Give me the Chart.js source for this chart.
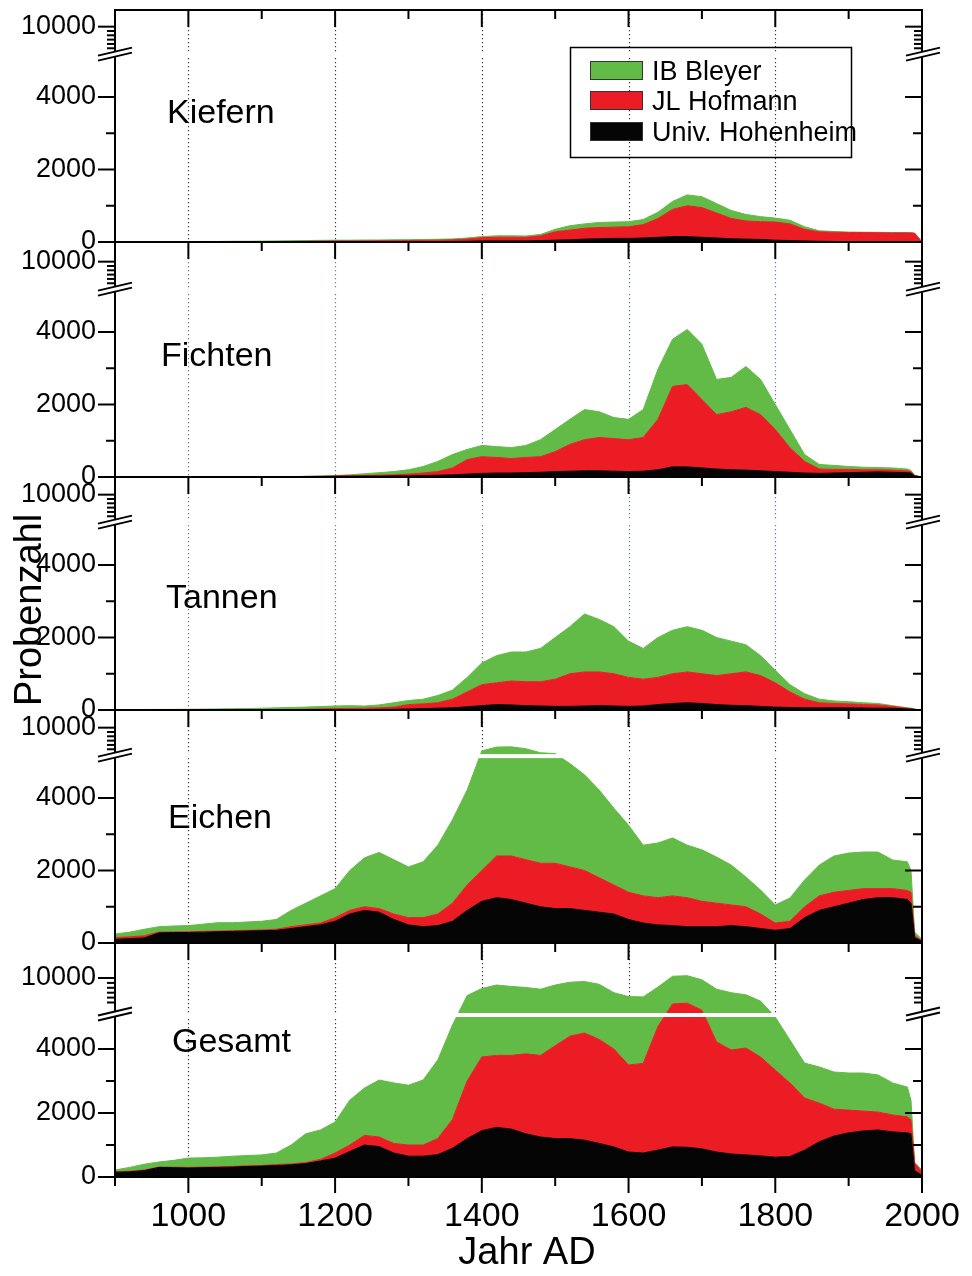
<!DOCTYPE html>
<html><head><meta charset="utf-8">
<script src="https://cdn.jsdelivr.net/npm/chart.js@4.4.1/dist/chart.umd.min.js"></script>
<style>html,body{margin:0;padding:0;background:#fff}#wrap{position:relative;width:972px;height:1276px}canvas{position:absolute;left:0;top:0}</style>
</head><body><div id="wrap"></div>
<script>
const years = [900,920,940,960,980,1000,1020,1040,1060,1080,1100,1120,1140,1160,1180,1200,1220,1240,1260,1280,1300,1320,1340,1360,1380,1400,1420,1440,1460,1480,1500,1520,1540,1560,1580,1600,1620,1640,1660,1680,1700,1720,1740,1760,1780,1800,1820,1840,1860,1880,1900,1920,1940,1960,1980,1985,1990,2000];
const xTickYears = [1000,1200,1400,1600,1800,2000];
const gridYears = [1000,1200,1400,1600,1800];
const yTickValues = [0,2000,4000,10000];
const seriesNames = ['IB Bleyer','JL Hofmann','Univ. Hohenheim'];
const panelNames = ['Kiefern','Fichten','Tannen','Eichen','Gesamt'];

const kiefernHohenheim = [0,0,0,0,0,0,0,0,0,0, 0,0,0,0,0,5,5,5,5,5, 10,10,10,15,20,30,30,30,30,40, 50,60,80,90,100,100,110,130,150,150, 130,110,90,80,70,50,40,30,20,15, 10,10,10,10,10,10,5,0];
const kiefernHofmann = [0,0,0,0,0,0,0,0,0,0, 5,10,15,20,25,25,25,25,30,30, 30,35,40,45,60,90,100,100,100,130, 230,270,300,310,310,320,370,520,750,850, 820,690,560,500,490,500,460,320,260,255, 250,250,245,240,240,240,235,0];
const kiefernBleyer = [0,0,5,5,10,10,15,15,20,20, 20,20,20,20,20,20,20,25,20,25, 25,25,25,25,30,30,40,40,35,40, 70,120,120,140,140,140,140,170,220,300, 300,260,220,180,140,110,100,70,30,20, 15,10,10,10,10,5,5,0];

const fichtenHohenheim = [0,0,0,0,0,0,0,0,0,0, 0,0,0,0,0,20,20,25,25,30, 30,40,50,60,80,100,110,110,120,130, 150,160,170,170,160,150,160,200,280,280, 250,220,200,190,170,150,130,110,100,110, 120,130,140,130,120,110,30,0];
const fichtenHofmann = [0,0,0,0,0,0,0,0,0,0, 0,5,10,15,20,10,15,15,25,30, 50,70,100,190,400,460,430,400,420,430, 550,740,860,920,900,880,930,1390,2220,2270, 1890,1500,1600,1730,1550,1160,680,320,120,100, 90,70,60,60,50,40,10,0];
const fichtenBleyer = [0,0,0,0,0,0,0,0,0,0, 0,0,0,5,10,10,25,50,70,90, 120,180,280,370,280,310,300,300,330,470, 610,690,830,710,580,560,770,1380,1300,1520, 1520,970,950,1130,970,690,500,190,125,110, 80,70,60,60,50,30,5,0];

const tannenHohenheim = [0,0,0,0,0,0,0,0,0,0, 0,0,0,0,0,10,10,10,15,20, 30,40,50,60,90,120,150,140,120,110, 100,100,110,120,110,100,110,150,180,200, 180,150,130,120,100,80,70,60,60,60, 60,55,50,50,30,25,15,0];
const tannenHofmann = [0,0,2,3,4,5,5,5,5,5, 5,10,15,20,30,30,35,40,45,60, 120,130,150,240,410,580,600,660,660,670, 750,900,940,930,890,800,740,750,820,850, 820,800,870,930,850,670,430,240,140,120, 110,95,90,50,20,15,5,0];
const tannenBleyer = [10,12,12,13,14,15,20,25,30,35, 45,50,55,60,65,70,75,60,80,120, 110,130,200,250,400,600,750,800,820,920, 1150,1300,1600,1450,1300,1000,850,1100,1200,1250, 1200,1050,900,750,550,350,200,150,100,70, 60,50,40,20,10,10,5,0];

const eichenHohenheim = [100,120,140,280,290,290,300,310,320,330, 340,350,400,450,500,600,800,900,850,650, 500,450,480,600,900,1150,1250,1200,1100,1000, 950,950,900,850,800,650,550,500,480,450, 450,450,480,450,400,350,400,700,900,1000, 1100,1200,1250,1250,1200,1100,150,50];
const eichenHofmann = [50,50,60,20,15,20,20,20,20,20, 20,30,50,50,50,100,100,100,100,150, 200,250,320,500,700,850,1150,1200,1200,1200, 1250,1150,1100,950,800,750,750,750,820,800, 700,650,570,550,400,200,200,300,400,400, 350,300,250,250,250,300,50,10];
const eichenBleyer = [100,130,180,150,165,170,200,230,220,230, 240,270,450,600,750,800,1100,1350,1550,1500, 1400,1540,1900,2300,2620,3700,4000,4050,3800,3150, 3000,2850,2640,2420,2120,1850,1400,1510,1600,1450, 1420,1270,1100,820,660,500,640,740,850,1000, 1030,1010,1010,790,790,600,100,40];

const gesamtHohenheim = [150,160,200,300,290,280,290,300,310,330, 340,360,380,420,500,590,800,1000,950,750, 650,650,700,900,1200,1450,1550,1500,1350,1250, 1200,1200,1150,1050,940,780,750,840,940,930, 880,780,720,690,660,620,640,840,1100,1280, 1380,1440,1470,1410,1380,1350,200,50];
const gesamtHofmann = [10,20,20,10,15,20,20,20,20,20, 20,30,30,30,50,160,200,300,300,300, 350,350,500,900,1800,2300,2250,2300,2500,2550, 2900,3200,3350,3250,3060,2720,2800,3860,5360,5470, 4520,3440,3250,3340,3090,2720,2300,1630,1210,840, 710,620,560,530,500,430,240,100];
const gesamtBleyer = [60,120,180,160,215,290,290,300,320,320, 330,360,590,900,920,970,1400,1480,1780,1890, 1870,2030,2460,2950,4500,4750,5200,5000,4800,4600, 4900,5000,5000,4800,3900,3850,3750,4000,3950,3930, 4350,4180,3930,3570,2950,1660,1340,1090,1130,1160, 1160,1190,1160,1000,930,620,0,70];

const COLORS = {bleyer:'#62bb46', hofmann:'#ec1c24', hohenheim:'#050505'};
const FONT = '"Liberation Sans", Arial, Helvetica, sans-serif';
Chart.defaults.font.family = FONT;

const brkStd = {L:5100, kL:0.03625, gap:4, kU:0.0054, minorStep:800};
const panels = [
  {key:'c0', top:10,  bottom:242,  data:[kiefernHohenheim,kiefernHofmann,kiefernBleyer], brk:brkStd, label:[167,123], grid:'#3a3a3a', legend:true},
  {key:'c1', top:242, bottom:477,  data:[fichtenHohenheim,fichtenHofmann,fichtenBleyer], brk:brkStd, label:[161,366], grid:'#6577a6'},
  {key:'c2', top:477, bottom:710,  data:[tannenHohenheim,tannenHofmann,tannenBleyer], brk:brkStd, label:[166,608], grid:'#6577a6', ytitle:true},
  {key:'c3', top:710, bottom:943,  data:[eichenHohenheim,eichenHofmann,eichenBleyer], brk:brkStd, label:[168,828], grid:'#3a3a3a'},
  {key:'c4', top:943, bottom:1177, data:[gesamtHohenheim,gesamtHofmann,gesamtBleyer], brk:{L:5000, kL:0.032, gap:4, kU:0.007, minorStep:700}, label:[172,1052], grid:'#3a3a3a', last:true}
];
const geomById = {};

class BrokenScale extends Chart.LinearScale {
  getPixelForValue(v) {
    const o = geomById[this.chart.canvas.id];
    const b = this.bottom;
    if (v <= o.L) return b - v * o.kL;
    return b - o.L * o.kL - o.gap - (v - o.L) * o.kU;
  }
  getValueForPixel(p) {
    const o = geomById[this.chart.canvas.id];
    const d = this.bottom - p, t = o.L * o.kL;
    if (d <= t) return d / o.kL;
    return o.L + (d - t - o.gap) / o.kU;
  }
}
BrokenScale.id = 'broken';
Chart.register(BrokenScale);

function seg(ctx, x1, y1, x2, y2) { ctx.beginPath(); ctx.moveTo(x1, y1); ctx.lineTo(x2, y2); ctx.stroke(); }

function makeDecor(p, idx) {
  return {
    id: 'decor' + idx,
    beforeDatasetsDraw(chart) {
      const {ctx, chartArea: a} = chart; const x = chart.scales.x;
      ctx.save();
      ctx.strokeStyle = p.grid; ctx.lineWidth = 1.2; ctx.setLineDash([1.3, 2.7]);
      gridYears.forEach(v => { const px = Math.round(x.getPixelForValue(v)) + 0.5; seg(ctx, px, a.top, px, a.bottom); });
      ctx.restore();
    },
    afterDatasetsDraw(chart) {
      const {ctx, chartArea: a} = chart; const x = chart.scales.x, y = chart.scales.y;
      const o = p.brk;
      const lowerTop = y.getPixelForValue(o.L);
      const upperBottom = lowerTop - o.gap;
      ctx.save();
      ctx.fillStyle = '#fff';
      ctx.fillRect(a.left, upperBottom, a.right - a.left, o.gap);
      ctx.strokeStyle = '#000'; ctx.lineWidth = 2; ctx.setLineDash([]);
      ctx.strokeRect(a.left, a.top, a.right - a.left, a.bottom - a.top);
      const yt = [[0,17],[1000,9],[2000,17],[3000,9],[4000,17],[10000,17]];
      for (let i = 1; i <= 5; i++) yt.push([10000 - i * o.minorStep, 8]);
      yt.forEach(([v, len]) => {
        const py = y.getPixelForValue(v);
        seg(ctx, a.left - len, py, a.left, py);
        seg(ctx, a.right - len, py, a.right, py);
      });
      for (let yr = 1000; yr <= 1900; yr += 100) {
        const px = x.getPixelForValue(yr), len = yr % 200 === 0 ? 17 : 9;
        seg(ctx, px, a.top, px, a.top + len);
      }
      if (p.last) {
        for (let yr = 900; yr <= 2000; yr += 100) {
          const px = x.getPixelForValue(yr), len = yr % 200 === 0 ? 16 : 9;
          seg(ctx, px, a.bottom, px, a.bottom + len);
        }
        ctx.fillStyle = '#000'; ctx.textAlign = 'center'; ctx.textBaseline = 'middle';
        ctx.font = '38px ' + FONT;
        ctx.fillText('Jahr AD', 527, 1254);
      }
      const yc = lowerTop - o.gap / 2 - 1;
      [a.left, a.right + 1].forEach(cx => {
        const dx = 17, dy = 4, s = 2.5;
        ctx.fillStyle = '#fff';
        ctx.beginPath();
        ctx.moveTo(cx - dx, yc + dy - s); ctx.lineTo(cx + dx, yc - dy - s);
        ctx.lineTo(cx + dx, yc - dy + s); ctx.lineTo(cx - dx, yc + dy + s);
        ctx.closePath(); ctx.fill();
        ctx.lineWidth = 2; ctx.strokeStyle = '#000';
        seg(ctx, cx - dx, yc + dy - s, cx + dx, yc - dy - s);
        seg(ctx, cx - dx, yc + dy + s, cx + dx, yc - dy + s);
      });
      ctx.fillStyle = '#000'; ctx.textAlign = 'left'; ctx.textBaseline = 'alphabetic';
      ctx.font = '34px ' + FONT;
      ctx.fillText(panelNames[idx], p.label[0], p.label[1]);
      if (p.legend) {
        ctx.lineWidth = 1.5; ctx.strokeStyle = '#000';
        ctx.strokeRect(570.5, 47.5, 281, 110);
        const items = [[seriesNames[0], COLORS.bleyer, 61], [seriesNames[1], COLORS.hofmann, 91], [seriesNames[2], COLORS.hohenheim, 122]];
        ctx.font = '27px ' + FONT;
        items.forEach(([t, c, yy]) => {
          ctx.fillStyle = c; ctx.fillRect(590, yy, 53, 19);
          ctx.lineWidth = 1; ctx.strokeStyle = '#333'; ctx.strokeRect(590.5, yy + 0.5, 52, 18);
          ctx.fillStyle = '#000'; ctx.fillText(t, 652, yy + 19);
        });
      }
      if (p.ytitle) {
        ctx.save();
        ctx.translate(31, 610); ctx.rotate(-Math.PI / 2);
        ctx.textAlign = 'center'; ctx.textBaseline = 'middle';
        ctx.font = '38px ' + FONT; ctx.fillStyle = '#000';
        ctx.fillText('Probenzahl', 0, 0);
        ctx.restore();
      }
      ctx.restore();
    }
  };
}

const wrap = document.getElementById('wrap');
panels.forEach((p, idx) => {
  const cv = document.createElement('canvas');
  cv.id = p.key; cv.width = 972; cv.height = 1276;
  wrap.appendChild(cv);
  geomById[p.key] = p.brk;
  const ds = (label, data, color, fill) => ({label, data, backgroundColor: color, borderColor: color, borderWidth: 1, fill, pointRadius: 0, tension: 0});
  const xScale = p.last ? {
    type: 'linear', min: 900, max: 2000, position: 'bottom',
    afterBuildTicks: s => { s.ticks = xTickYears.map(v => ({value: v})); },
    afterFit: s => { s.height = 99; s.paddingLeft = 0; s.paddingRight = 0; },
    grid: {display: false, drawTicks: false}, border: {display: false},
    ticks: {autoSkip: false, maxRotation: 0, minRotation: 0, padding: 19, color: '#000', font: {size: 34}, callback: v => String(v)},
    title: {display: false}
  } : {type: 'linear', min: 900, max: 2000, display: false};
  new Chart(cv, {
    type: 'line',
    data: {
      labels: years,
      datasets: [
        ds(seriesNames[2], p.data[0], COLORS.hohenheim, 'origin'),
        ds(seriesNames[1], p.data[1], COLORS.hofmann, '-1'),
        ds(seriesNames[0], p.data[2], COLORS.bleyer, '-1')
      ]
    },
    options: {
      responsive: false, animation: false, devicePixelRatio: 1, events: [],
      layout: {padding: {top: p.top, bottom: p.last ? 0 : 1276 - p.bottom, left: 0, right: 50}},
      plugins: {legend: {display: false}, tooltip: {enabled: false}},
      scales: {
        x: xScale,
        y: {
          type: 'broken', stacked: true, min: 0, max: 15000, position: 'left',
          afterBuildTicks: s => { s.ticks = yTickValues.map(v => ({value: v})); },
          afterFit: s => { s.width = 115; s.paddingTop = 0; s.paddingBottom = 0; },
          grid: {display: false, drawTicks: false}, border: {display: false},
          ticks: {autoSkip: false, padding: 19, color: '#000', font: {size: 27}, callback: v => String(v)}
        }
      }
    },
    plugins: [makeDecor(p, idx)]
  });
});
</script>
</body></html>
